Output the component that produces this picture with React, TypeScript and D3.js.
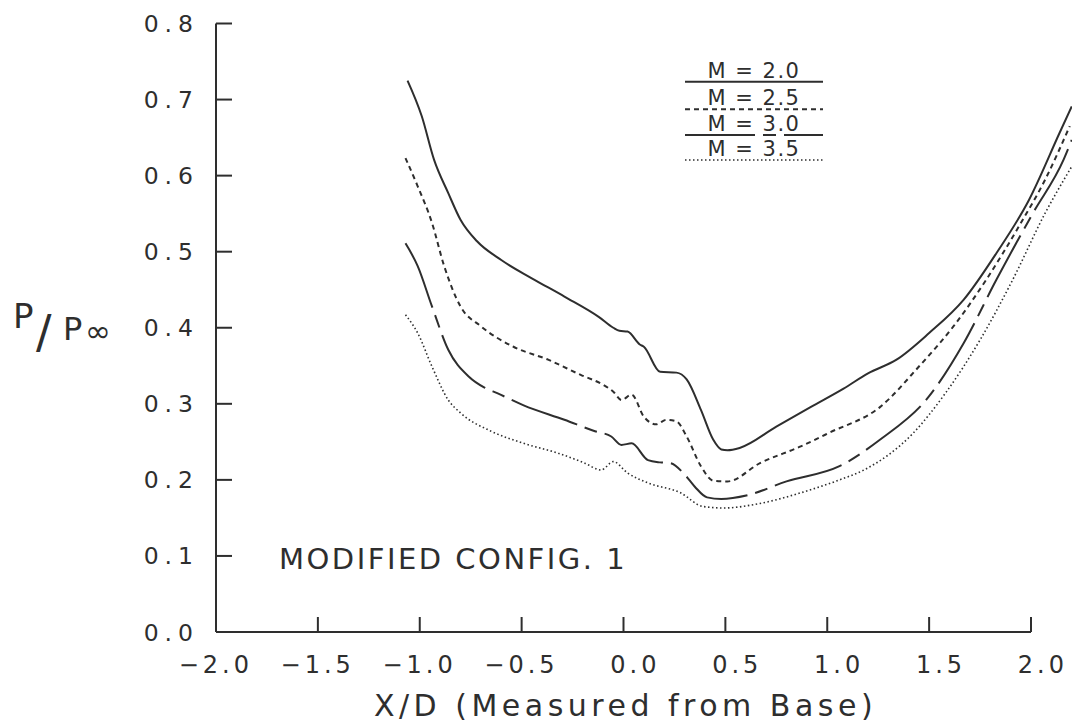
import React from "react";
import * as d3 from "d3";

// ---- data ----
const xTicks = [-2.0, -1.5, -1.0, -0.5, 0.0, 0.5, 1.0, 1.5, 2.0];
const yTicks = [0.0, 0.1, 0.2, 0.3, 0.4, 0.5, 0.6, 0.7, 0.8];

const m20X = [-1.06, -0.99, -0.93, -0.86, -0.80, -0.72, -0.60, -0.45, -0.29, -0.12, -0.05, -0.02, 0.02, 0.08, 0.10, 0.18, 0.26, 0.31, 0.38, 0.44, 0.48, 0.51, 0.57, 0.75, 0.92, 1.08, 1.20, 1.34, 1.50, 1.67, 1.83, 1.99, 2.14, 2.20];
const m20Y = [0.725, 0.678, 0.621, 0.577, 0.542, 0.514, 0.489, 0.465, 0.441, 0.414, 0.400, 0.396, 0.395, 0.378, 0.375, 0.342, 0.341, 0.332, 0.292, 0.253, 0.240, 0.239, 0.242, 0.270, 0.296, 0.320, 0.340, 0.358, 0.393, 0.437, 0.498, 0.568, 0.656, 0.691];

const m25X = [-1.07, -1.01, -0.94, -0.88, -0.80, -0.70, -0.54, -0.37, -0.21, -0.10, -0.05, -0.01, 0.04, 0.10, 0.16, 0.21, 0.26, 0.31, 0.38, 0.44, 0.51, 0.67, 0.87, 1.01, 1.26, 1.45, 1.62, 1.78, 1.94, 2.07, 2.19];
const m25Y = [0.623, 0.586, 0.538, 0.481, 0.428, 0.402, 0.375, 0.358, 0.338, 0.325, 0.316, 0.305, 0.312, 0.283, 0.273, 0.279, 0.277, 0.257, 0.218, 0.199, 0.198, 0.222, 0.244, 0.262, 0.296, 0.349, 0.402, 0.463, 0.533, 0.595, 0.665];

const m30X = [-1.07, -1.01, -0.94, -0.86, -0.76, -0.68, -0.62, -0.49, -0.29, -0.14, -0.06, -0.01, 0.04, 0.12, 0.18, 0.23, 0.30, 0.35, 0.41, 0.48, 0.61, 0.80, 1.06, 1.26, 1.50, 1.67, 1.83, 2.01, 2.16, 2.20];
const m30Y = [0.511, 0.481, 0.428, 0.371, 0.336, 0.321, 0.314, 0.298, 0.279, 0.264, 0.257, 0.246, 0.248, 0.226, 0.223, 0.222, 0.207, 0.191, 0.177, 0.175, 0.180, 0.198, 0.218, 0.253, 0.310, 0.380, 0.463, 0.551, 0.621, 0.647];

const m35X = [-1.07, -1.01, -0.94, -0.86, -0.80, -0.65, -0.49, -0.32, -0.19, -0.11, -0.05, 0.02, 0.12, 0.28, 0.39, 0.49, 0.67, 0.87, 1.06, 1.18, 1.42, 1.58, 1.75, 1.91, 2.07, 2.20];
const m35Y = [0.417, 0.393, 0.349, 0.305, 0.288, 0.264, 0.248, 0.235, 0.222, 0.213, 0.224, 0.209, 0.196, 0.183, 0.165, 0.163, 0.169, 0.183, 0.200, 0.213, 0.261, 0.314, 0.384, 0.463, 0.551, 0.612];

const seriesLabels = ["M = 2.0", "M = 2.5", "M = 3.0", "M = 3.5"];

const INK = "#2e2e2e";
const FONT = "'DejaVu Sans', sans-serif";

const styles = [
  { dash: "none", width: 2 },
  { dash: "5,4", width: 2 },
  { dash: "70,8,13,8", width: 2 },
  { dash: "1.5,2.5", width: 1.6 },
];

export default function App() {
  const x = d3.scaleLinear().domain([-2, 2]).range([216, 1031]);
  const y = d3.scaleLinear().domain([0, 0.8]).range([632, 23.5]);
  const line = d3
    .line<[number, number]>()
    .x((d) => x(d[0]))
    .y((d) => y(d[1]))
    .curve(d3.curveMonotoneX);

  const series = [
    [m20X, m20Y],
    [m25X, m25Y],
    [m30X, m30Y],
    [m35X, m35Y],
  ].map(([xs, ys]) => xs.map((v, i) => [v, ys[i]] as [number, number]));

  const legendX0 = 685;
  const legendX1 = 823;
  const legendLineY = [81.7, 109.3, 135, 160];

  return (
    <div style={{ position: "fixed", left: 0, top: 0 }}>
      <svg width={1072} height={728} style={{ display: "block", background: "#fff" }}>
        {/* axes */}
        <line x1={x(-2)} x2={x(-2)} y1={y(0)} y2={y(0.8)} stroke={INK} strokeWidth={2} />
        <line x1={x(-2)} x2={x(2)} y1={y(0)} y2={y(0)} stroke={INK} strokeWidth={2} />
        {yTicks.map((t) => (
          <g key={"y" + t}>
            <line x1={x(-2)} x2={x(-2) + 16} y1={y(t)} y2={y(t)} stroke={INK} strokeWidth={2} />
            <text
              x={199}
              y={y(t) + 8.5}
              textAnchor="end"
              fontFamily={FONT}
              fontSize={23.5}
              letterSpacing={6}
              fill={INK}
            >
              {t.toFixed(1)}
            </text>
          </g>
        ))}
        {xTicks.map((t) => (
          <g key={"x" + t}>
            <line x1={x(t)} x2={x(t)} y1={y(0)} y2={y(0) - 15} stroke={INK} strokeWidth={2} />
            <text
              x={x(t) + 37}
              y={673}
              textAnchor="end"
              fontFamily={FONT}
              fontSize={24}
              letterSpacing={4}
              fill={INK}
            >
              {(t < 0 ? "\u2212" : "") + Math.abs(t).toFixed(1)}
            </text>
          </g>
        ))}

        {/* axis titles */}
        <text
          x={(x(-2) + x(2)) / 2 + 2}
          y={716}
          textAnchor="middle"
          fontFamily={FONT}
          fontSize={30}
          letterSpacing={4.5}
          fill={INK}
        >
          X/D (Measured from Base)
        </text>
        <text fontFamily={FONT} fill={INK}>
          <tspan x={13} y={328} fontSize={34}>P</tspan>
          <tspan x={36} y={348} fontSize={46}>/</tspan>
          <tspan x={63} y={340} fontSize={32}>P</tspan>
          <tspan x={85} y={342} fontSize={31}>∞</tspan>
        </text>

        {/* annotation */}
        <text x={279} y={569} fontFamily={FONT} fontSize={29} letterSpacing={2.5} fill={INK}>
          MODIFIED CONFIG. 1
        </text>

        {/* curves */}
        {series.map((pts, i) => (
          <path
            key={"s" + i}
            d={line(pts) || ""}
            fill="none"
            stroke={INK}
            strokeWidth={styles[i].width}
            strokeDasharray={styles[i].dash}
            strokeLinecap="butt"
          />
        ))}

        {/* legend */}
        {seriesLabels.map((lab, i) => (
          <g key={"l" + i}>
            <text
              x={754}
              y={legendLineY[i] - 4}
              textAnchor="middle"
              fontFamily={FONT}
              fontSize={21}
              letterSpacing={1.5}
              fill={INK}
            >
              {lab}
            </text>
            <line
              x1={legendX0}
              x2={legendX1}
              y1={legendLineY[i]}
              y2={legendLineY[i]}
              stroke={INK}
              strokeWidth={styles[i].width}
              strokeDasharray={styles[i].dash}
            />
          </g>
        ))}
      </svg>
    </div>
  );
}
